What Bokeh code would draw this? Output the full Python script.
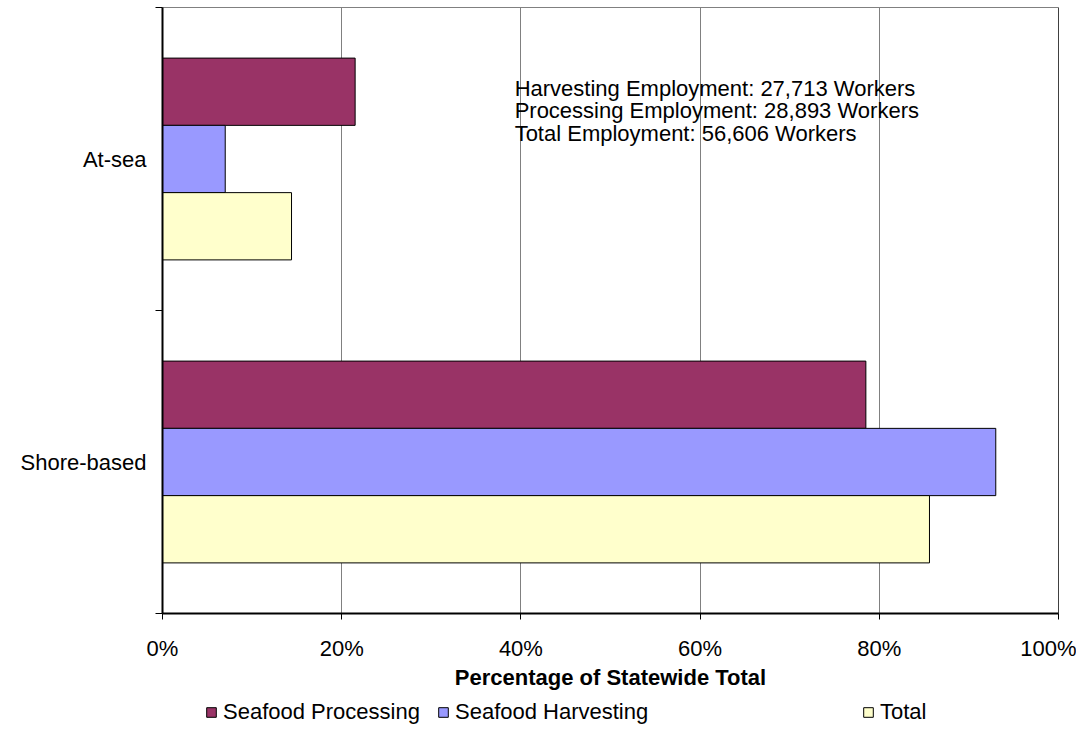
from bokeh.plotting import figure
from bokeh.layouts import column
from bokeh.models import (ColumnDataSource, FixedTicker, NumeralTickFormatter, Legend,
                          LegendItem, Label, Span, Range1d)
from bokeh.embed import file_html
from bokeh.resources import INLINE

# ---- data ----
categories = ["At-sea", "Shore-based"]
series_names = ["Seafood Processing", "Seafood Harvesting", "Total"]
processing = [21.5, 78.5]
harvesting = [7.0, 93.0]
total = [14.4, 85.6]
x_ticks = [0, 20, 40, 60, 80, 100]
annotation_lines = [
    "Harvesting Employment: 27,713 Workers",
    "Processing Employment: 28,893 Workers",
    "Total Employment: 56,606 Workers",
]

colors = ["#993366", "#9999FF", "#FFFFCC"]
FONT = "Liberation Sans"

# category centre positions (Excel draws first category at top)
cat_pos = {"Shore-based": 0.5, "At-sea": 1.5}
bar_h = 0.222
offsets = [bar_h, 0.0, -bar_h]

W = 1076
LEFT = 162
MH = 692
p = figure(width=W, height=MH, output_backend="svg", toolbar_location=None,
           x_range=Range1d(0, 1), y_range=Range1d(0, 2),
           min_border_left=LEFT, min_border_right=W - 1058, min_border_top=7,
           min_border_bottom=MH - 614)
p.background_fill_color = "white"
p.border_fill_color = "white"
p.outline_line_color = "#808080"
p.outline_line_width = 1

renderers = []
for vals, col, off in zip([processing, harvesting, total], colors, offsets):
    src = ColumnDataSource(dict(
        y=[cat_pos[c] + off for c in categories],
        right=[v / 100 for v in vals],
    ))
    r = p.hbar(y="y", left=0, right="right", height=bar_h, source=src,
               fill_color=col, line_color="#000000", line_width=1)
    renderers.append(r)

# grid
p.ygrid.grid_line_color = None
p.xgrid.grid_line_color = "#808080"
p.xgrid.grid_line_width = 1
p.xgrid.ticker = FixedTicker(ticks=[t / 100 for t in x_ticks])
p.add_layout(Span(location=1, dimension="height", line_color="#000000", line_width=1))

# x axis
xa = p.xaxis[0]
xa.ticker = FixedTicker(ticks=[t / 100 for t in x_ticks])
xa.formatter = NumeralTickFormatter(format="0%")
xa.axis_line_color = "#000000"
xa.axis_line_width = 2
xa.major_tick_line_color = "#000000"
xa.major_tick_out = 6
xa.major_tick_in = 0
xa.minor_tick_line_color = None
xa.major_label_text_font = FONT
xa.major_label_text_font_size = "22px"
xa.major_label_text_color = "#000000"
xa.major_label_standoff = 16
xa.axis_label = "Percentage of Statewide Total"
xa.axis_label_text_font = FONT
xa.axis_label_text_font_size = "22px"
xa.axis_label_text_font_style = "bold"
xa.axis_label_text_color = "#000000"
xa.axis_label_standoff = 1

# y axis
ya = p.yaxis[0]
ya.ticker = FixedTicker(ticks=[0.5, 1.5], minor_ticks=[0, 1, 2])
ya.major_label_overrides = {0.5: "Shore-based", 1.5: "At-sea"}
ya.axis_line_color = "#000000"
ya.axis_line_width = 2
ya.major_tick_line_color = None
ya.major_tick_out = 0
ya.major_tick_in = 0
ya.minor_tick_line_color = "#000000"
ya.minor_tick_out = 7
ya.minor_tick_in = 0
ya.major_label_text_font = FONT
ya.major_label_text_font_size = "22px"
ya.major_label_text_color = "#000000"
ya.major_label_standoff = 9

# annotation text
for line, yv in zip(annotation_lines, [1.733, 1.660, 1.584]):
    p.add_layout(Label(x=0.393, y=yv, text=line, text_font=FONT,
                       text_font_size="22px", text_color="#000000",
                       text_baseline="alphabetic", text_align="left"))

# ---- legend strip (separate figure so items can sit at Excel-like positions) ----
LH = 34
lf = figure(width=W, height=LH, output_backend="svg", toolbar_location=None,
            x_range=Range1d(0, 1), y_range=Range1d(0, 1),
            x_axis_location=None, y_axis_location=None,
            min_border_left=0, min_border_right=0, min_border_top=0, min_border_bottom=0)
lf.grid.grid_line_color = None
lf.outline_line_color = None
lf.background_fill_color = "white"
lf.border_fill_color = "white"

# legend swatches: renderers whose single bar lies outside the visible range
for name, col, lx in zip(series_names, colors, [205, 437, 862]):
    lr = lf.hbar(y=[-10], left=[0], right=[1], height=0.1,
                 fill_color=col, line_color="#000000", line_width=1)
    lg = Legend(items=[LegendItem(label=name, renderers=[lr])],
                location=(lx - LEFT, 1), orientation="horizontal",
                glyph_width=12, glyph_height=12, label_standoff=6,
                padding=0, margin=0, spacing=0,
                border_line_color=None, background_fill_alpha=0,
                label_text_font=FONT, label_text_font_size="22px",
                label_text_color="#000000")
    lf.add_layout(lg)

layout = column(p, lf, spacing=0)
open("out.html", "w").write(file_html(layout, INLINE))
